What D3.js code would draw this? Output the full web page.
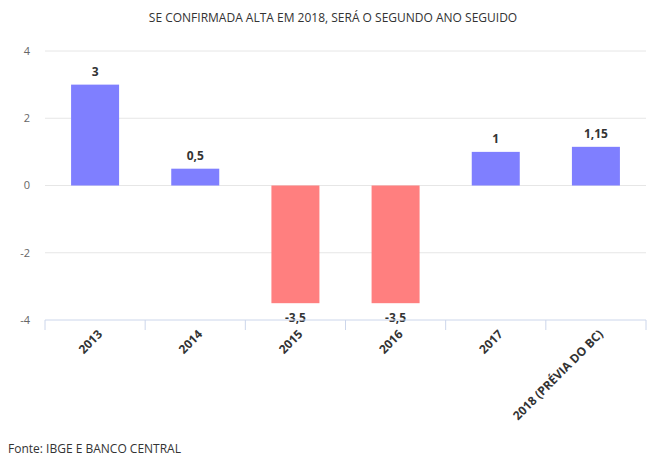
<!DOCTYPE html>
<html>
<head>
<meta charset="utf-8">
<script src="https://cdn.jsdelivr.net/npm/d3@7"></script>
<style>
  body { margin: 0; background: #fff; }
  svg { font-family: "Open Sans", sans-serif; }
</style>
</head>
<body>
<svg id="chart"></svg>
<script>
const categories = ['2013', '2014', '2015', '2016', '2017', '2018 (PRÉVIA DO BC)'];
const values = [3, 0.5, -3.5, -3.5, 1, 1.15];
const yTicks = [-4, -2, 0, 2, 4];

const width = 666, height = 467;
const margin = { top: 51, right: 20, bottom: 147, left: 45 };

const svg = d3.select('#chart').attr('width', width).attr('height', height);
const innerW = width - margin.left - margin.right;
const innerH = height - margin.top - margin.bottom;

const chart = svg.append('g')
  .attr('transform', `translate(${margin.left}, ${margin.top})`);

const x = d3.scaleBand().domain(categories).range([0, innerW]).paddingInner(0).paddingOuter(0);
const y = d3.scaleLinear().domain([-4, 4]).range([innerH, 0]);

// gridlines
chart.append('g')
  .selectAll('line')
  .data(yTicks.filter(t => t !== -4))
  .join('line')
  .attr('x1', 0).attr('x2', innerW)
  .attr('y1', d => y(d)).attr('y2', d => y(d))
  .attr('stroke', '#e6e6e6');

// y labels
chart.append('g')
  .selectAll('text')
  .data(yTicks)
  .join('text')
  .attr('x', -15)
  .attr('y', d => y(d))
  .attr('dy', '0.35em')
  .attr('text-anchor', 'end')
  .style('font-size', '11px')
  .attr('fill', '#666')
  .text(d => d);

// bars
const bw = 48;
chart.append('g')
  .selectAll('rect')
  .data(values)
  .join('rect')
  .attr('x', (d, i) => x(categories[i]) + x.bandwidth() / 2 - bw / 2)
  .attr('y', d => y(Math.max(0, d)))
  .attr('width', bw)
  .attr('height', d => Math.abs(y(d) - y(0)))
  .attr('fill', d => d < 0 ? '#ff7f7f' : '#7f7fff');

// value labels
const fmt = d => String(d).replace('.', ',');
chart.append('g')
  .selectAll('text')
  .data(values)
  .join('text')
  .attr('x', (d, i) => x(categories[i]) + x.bandwidth() / 2)
  .attr('y', d => d < 0 ? y(d) + 19 : y(d) - 9)
  .attr('text-anchor', 'middle')
  .style('font-size', '12px')
  .style('font-weight', 'bold')
  .attr('fill', '#333')
  .text(fmt);

// x axis
const xAxis = chart.append('g')
  .attr('transform', `translate(0, ${innerH})`);
xAxis.append('line')
  .attr('x1', 0).attr('x2', innerW)
  .attr('stroke', '#ccd6eb');
xAxis.selectAll('.tick')
  .data(d3.range(categories.length + 1))
  .join('line')
  .attr('x1', i => i * x.bandwidth()).attr('x2', i => i * x.bandwidth())
  .attr('y1', 0).attr('y2', 10)
  .attr('stroke', '#ccd6eb');
xAxis.selectAll('text')
  .data(categories)
  .join('text')
  .attr('transform', d => `translate(${x(d) + x.bandwidth() / 2 + 5}, 12) rotate(-45)`)
  .attr('text-anchor', 'end')
  .attr('dy', '0.35em')
  .style('font-size', '12px')
  .style('font-weight', 'bold')
  .attr('fill', '#333')
  .text(d => d);

// title
svg.append('text')
  .attr('x', width / 2)
  .attr('y', 22)
  .attr('text-anchor', 'middle')
  .style('font-size', '12px')
  .attr('fill', '#333')
  .text('SE CONFIRMADA ALTA EM 2018, SERÁ O SEGUNDO ANO SEGUIDO');

// source
svg.append('text')
  .attr('x', 8)
  .attr('y', 453)
  .style('font-size', '12px')
  .attr('fill', '#333')
  .text('Fonte: IBGE E BANCO CENTRAL');
</script>
</body>
</html>
